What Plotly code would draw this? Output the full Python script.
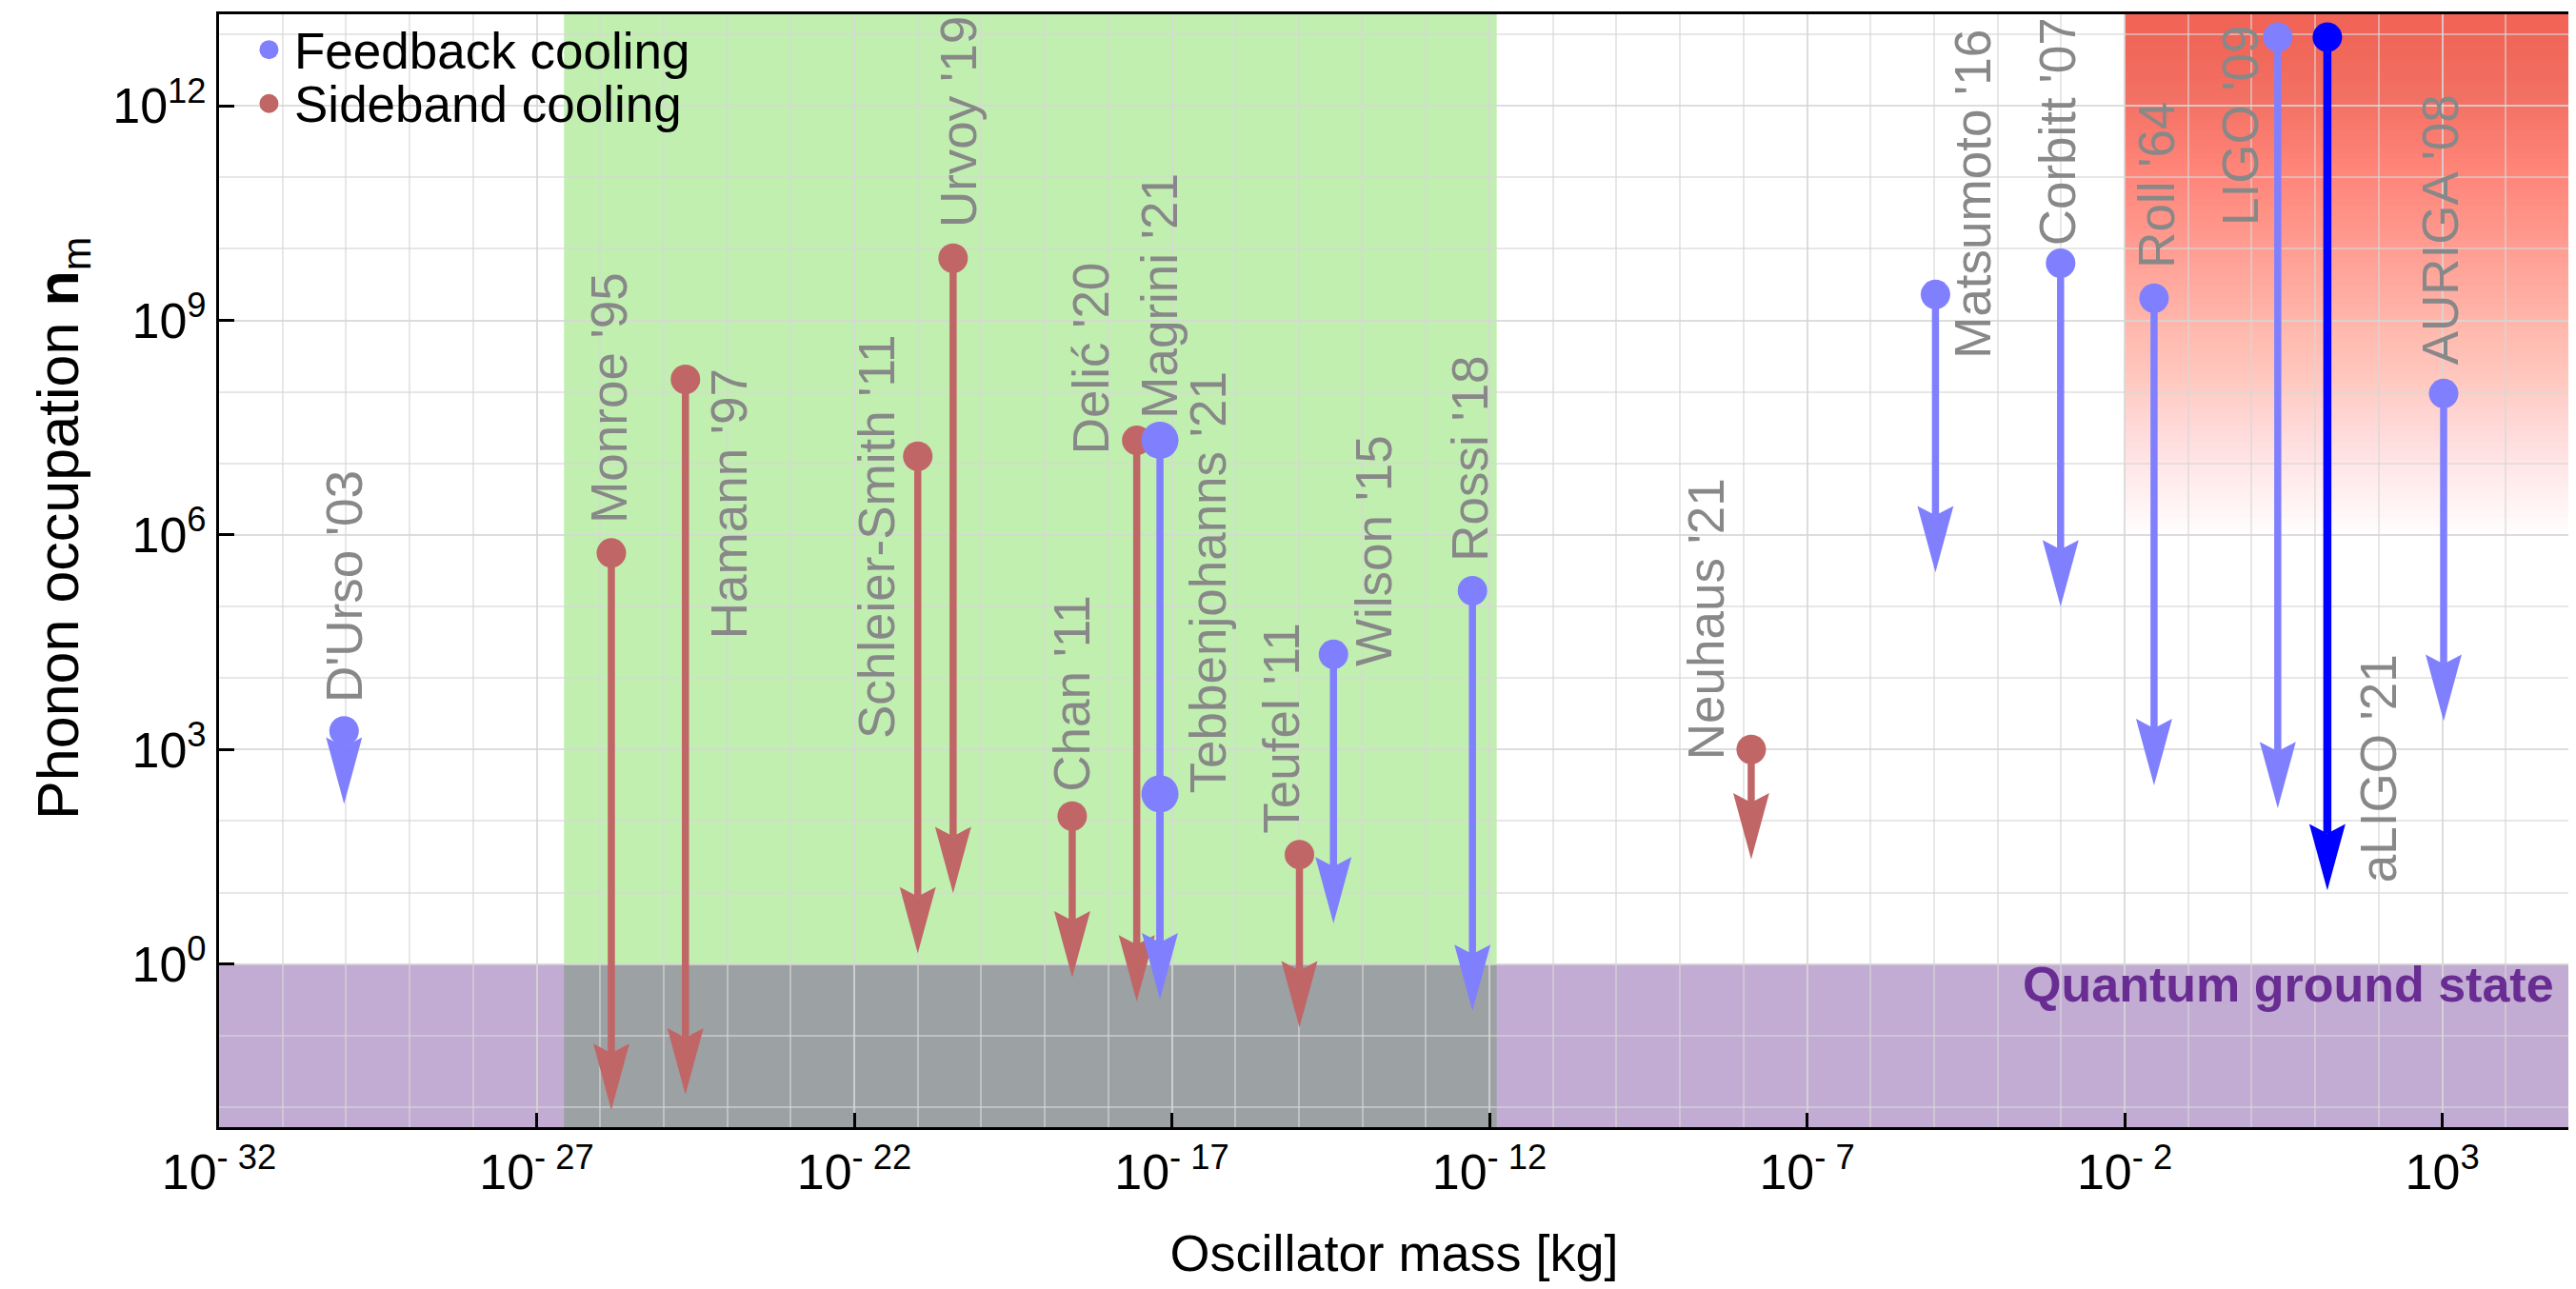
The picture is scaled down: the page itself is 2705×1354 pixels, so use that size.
import math
import plotly.graph_objects as go

# ---------------- data ----------------
names = ["D'Urso '03", "Monroe '95", "Hamann '97", "Schleier-Smith '11", "Urvoy '19",
         "Chan '11", "Delić '20", "Magrini '21", "Tebbenjohanns '21", "Teufel '11",
         "Wilson '15", "Rossi '18", "Neuhaus '21", "Matsumoto '16", "Corbitt '07",
         "Roll '64", "LIGO '09", "aLIGO '21", "AURIGA '08"]
method = ["feedback", "sideband", "sideband", "sideband", "sideband",
          "sideband", "sideband", "feedback", "feedback", "sideband",
          "feedback", "feedback", "sideband", "feedback", "feedback",
          "feedback", "feedback", "feedback", "feedback"]
mass_kg = [9.3e-31, 1.5e-26, 2.2e-25, 1.0e-21, 3.6e-21,
           2.7e-19, 2.8e-18, 6.5e-18, 6.5e-18, 1.02e-15,
           3.5e-15, 5.4e-13, 1.32e-8, 1.05e-5, 9.8e-4,
           2.9e-2, 2.57, 15.5, 1.05e3]
n_initial = [1.82e3, 5.6e5, 1.5e8, 1.26e7, 7.4e9,
             117, 2.1e7, 2.1e7, 240, 34,
             2.14e4, 1.66e5, 1.0e3, 2.3e9, 6.3e9,
             2.04e9, 9.1e12, 9.1e12, 9.5e7]
n_final = [174, 0.0091, 0.015, 1.41, 9.8,
           0.65, 0.30, 0.32, 0.32, 0.13,
           3.7, 0.22, 29, 3.0e5, 1.0e5,
           316, 151, 10.7, 2.5e3]

legend_labels = ["Feedback cooling", "Sideband cooling"]

x_tickvals = [1e-32, 1e-27, 1e-22, 1e-17, 1e-12, 1e-7, 1e-2, 1e3]
x_ticktext = ["10<sup>- 32</sup>", "10<sup>- 27</sup>", "10<sup>- 22</sup>", "10<sup>- 17</sup>",
              "10<sup>- 12</sup>", "10<sup>- 7</sup>", "10<sup>- 2</sup>", "10<sup>3</sup>"]
y_tickvals = [1e0, 1e3, 1e6, 1e9, 1e12]
y_ticktext = ["10<sup>0</sup>", "10<sup>3</sup>", "10<sup>6</sup>", "10<sup>9</sup>", "10<sup>12</sup>"]

# regions
levitated_mass = [2.7e-27, 1.3e-12]      # green band
ground_state_n = 1.0                      # quantum ground state limit
thermal_region = [1e-2, 1e6]              # red gradient: mass lower bound, n lower bound

# ---------------- layout / style ----------------
W, H = 2697, 1338          # page body has an 8px margin
ML, MR, MT, MB = 222, 4, 4, 162
XR = [-32, 5]
YR = [-2.28, 13.28]
pxx = (W - ML - MR) / (XR[1] - XR[0])
pxy = (H - MT - MB) / (YR[1] - YR[0])

FONT = "Liberation Sans, Arial, Helvetica, sans-serif"
C_FB = "#8080FF"
C_SB = "#C16666"
C_ALIGO = "#0000FF"
C_LABEL = "#888888"
HEAD_LEN, HEAD_HALF, NOTCH = 70, 19, 10
LINE_W = 7.5
DOT = 31
DOT_BIG = 39
big_dot = {"Magrini '21", "Tebbenjohanns '21"}

label_style = {
    "D'Urso '03": ("bottom", 0, 28, "start"),
    "Monroe '95": ("bottom", -2, 29, "start"),
    "Hamann '97": ("top", 46, 13, "start"),
    "Schleier-Smith '11": ("middle", -43, -85, "start"),
    "Urvoy '19": ("bottom", 5, 30, "start"),
    "Chan '11": ("bottom", 0, 24, "start"),
    "Delić '20": ("bottom", -48, -17, "start"),
    "Magrini '21": ("bottom", 0, 21, "start"),
    "Tebbenjohanns '21": ("bottom", 50, -2, "start"),
    "Teufel '11": ("bottom", -19, 20, "start"),
    "Wilson '15": ("bottom", 43, -15, "start"),
    "Rossi '18": ("bottom", -3, 29, "start"),
    "Neuhaus '21": ("bottom", -48, -13, "start"),
    "Matsumoto '16": ("bottom", 39, -69, "start"),
    "Corbitt '07": ("bottom", -3, 16, "start"),
    "Roll '64": ("bottom", 3, 30, "start"),
    "LIGO '09": ("top", -40, 14, "start"),
    "aLIGO '21": ("bottom", 53, 6, "end"),
    "AURIGA '08": ("bottom", -4, 28, "start"),
}


def color_of(i):
    if names[i] == "aLIGO '21":
        return C_ALIGO
    return C_FB if method[i] == "feedback" else C_SB


fig = go.Figure()

# ---------------- background regions ----------------
shapes = []
shapes.append(dict(type="rect", xref="x", yref="y", layer="below",
                   x0=levitated_mass[0], x1=levitated_mass[1], y0=ground_state_n, y1=10 ** YR[1],
                   fillcolor="rgb(192,239,176)", line=dict(width=0)))
shapes.append(dict(type="rect", xref="x", yref="y", layer="below",
                   x0=10 ** XR[0], x1=10 ** XR[1], y0=10 ** YR[0], y1=ground_state_n,
                   fillcolor="rgb(194,172,211)", line=dict(width=0)))
shapes.append(dict(type="rect", xref="x", yref="y", layer="below",
                   x0=levitated_mass[0], x1=levitated_mass[1], y0=10 ** YR[0], y1=ground_state_n,
                   fillcolor="rgb(156,161,163)", line=dict(width=0)))
# vertical red gradient (stacked translucent strips -> linear ramp)
N = 90
lo = math.log10(thermal_region[1])
for k in range(1, N + 1):
    yb = lo + (k - 1) / N * (YR[1] - lo)
    a = 1.0 / (N - k + 1)
    shapes.append(dict(type="rect", xref="x", yref="y", layer="below",
                       x0=thermal_region[0], x1=10 ** XR[1], y0=10 ** yb, y1=10 ** YR[1],
                       fillcolor=f"rgba(242,100,86,{a:.4f})", line=dict(width=0)))

# ---------------- arrows ----------------
order = [C_SB, C_FB, C_ALIGO]
groups = {c: [] for c in order}
for i in range(len(names)):
    groups[color_of(i)].append(i)

for col in order:
    idx = groups[col]
    lx, ly, hx, hy = [], [], [], []
    for i in idx:
        m = mass_kg[i]
        lm = math.log10(m)
        yt = math.log10(n_final[i])
        base = yt + HEAD_LEN / pxy
        notch = base - NOTCH / pxy
        wx = HEAD_HALF / pxx
        lx += [m, m, None]
        ly += [n_initial[i], 10 ** notch, None]
        hx += [10 ** (lm - wx), m, 10 ** (lm + wx), m, None]
        hy += [10 ** base, n_final[i], 10 ** base, 10 ** notch, None]
    fig.add_trace(go.Scatter(x=lx, y=ly, mode="lines", showlegend=False, hoverinfo="skip",
                             line=dict(color=col, width=LINE_W + (1 if col == C_ALIGO else 0))))
    fig.add_trace(go.Scatter(x=hx, y=hy, mode="lines", fill="toself", fillcolor=col,
                             line=dict(width=0, color=col), showlegend=False, hoverinfo="skip"))
    fig.add_trace(go.Scatter(x=[mass_kg[i] for i in idx], y=[n_initial[i] for i in idx],
                             mode="markers", showlegend=False,
                             text=[names[i] for i in idx],
                             marker=dict(color=col, opacity=1,
                                         size=[DOT_BIG if names[i] in big_dot else DOT for i in idx],
                                         line=dict(width=0))))

# ---------------- labels ----------------
annotations = []
for i, nm in enumerate(names):
    ya, dx, dy, where = label_style[nm]
    yv = n_initial[i] if where == "start" else n_final[i]
    annotations.append(dict(x=math.log10(mass_kg[i]), y=math.log10(yv), xref="x", yref="y",
                            text=nm, showarrow=False, textangle=-90,
                            xanchor="center", yanchor=ya, xshift=dx, yshift=dy,
                            font=dict(family=FONT, size=53, color=C_LABEL)))
annotations.append(dict(x=1, xref="paper", y=math.log10(ground_state_n), yref="y",
                        text="<b>Quantum ground state</b>", showarrow=False,
                        xanchor="right", yanchor="middle", xshift=-14, yshift=-21,
                        font=dict(family=FONT, size=52, color="rgb(104,44,146)")))
# y-axis title
annotations.append(dict(x=0, xref="paper", y=0.2747, yref="paper",
                        text="Phonon occupation <b>n</b><sub>m</sub>", showarrow=False,
                        textangle=-90, xanchor="center", yanchor="bottom", xshift=-164,
                        font=dict(family=FONT, size=61, color="black")))

# legend (drawn in the top-left corner of the plot area)
leg_colors = [C_FB, C_SB]
leg_y = [0.9682, 0.9198]
for lab, col, yy in zip(legend_labels, leg_colors, leg_y):
    shapes.append(dict(type="circle", xref="paper", yref="paper", layer="above",
                       xsizemode="pixel", ysizemode="pixel", xanchor=0.02125, yanchor=yy,
                       x0=-10, x1=10, y0=-10, y1=10, fillcolor=col, line=dict(width=0)))
    annotations.append(dict(x=0.0312, xref="paper", y=yy, yref="paper", text=lab,
                            showarrow=False, xanchor="left", yanchor="middle", yshift=-1,
                            font=dict(family=FONT, size=53, color="black")))

grid_c = "rgba(215,215,215,0.6)"
fig.update_layout(
    width=W, height=H,
    margin=dict(l=ML, r=MR, t=MT, b=MB),
    paper_bgcolor="white", plot_bgcolor="white",
    font=dict(family=FONT, size=52, color="black"),
    shapes=shapes, annotations=annotations,
    showlegend=False,
    hovermode=False,
)
fig.update_xaxes(type="log", range=XR, tickmode="array", tickvals=x_tickvals, ticktext=x_ticktext,
                 ticks="inside", ticklen=15, tickwidth=2.5, tickcolor="black",
                 showline=True, linecolor="black", linewidth=3, mirror=True,
                 showgrid=True, gridcolor=grid_c, gridwidth=1.5,
                 minor=dict(tickmode="array", tickvals=[10.0 ** k for k in range(-32, 6)],
                            showgrid=True, gridcolor=grid_c, gridwidth=1.5, ticks=""),
                 tickfont=dict(family=FONT, size=52, color="black"),
                 title=dict(text="Oscillator mass [kg]", font=dict(family=FONT, size=54, color="black"),
                            standoff=40),
                 zeroline=False)
fig.update_yaxes(type="log", range=YR, tickmode="array", tickvals=y_tickvals, ticktext=y_ticktext,
                 ticks="inside", ticklen=16, tickwidth=2.5, tickcolor="black",
                 showline=True, linecolor="black", linewidth=3, mirror=True,
                 showgrid=True, gridcolor=grid_c, gridwidth=1.5,
                 minor=dict(tickmode="array", tickvals=[10.0 ** k for k in range(-2, 14)],
                            showgrid=True, gridcolor=grid_c, gridwidth=1.5, ticks=""),
                 tickfont=dict(family=FONT, size=52, color="black"),
                 zeroline=False)

fig.write_html("out.html")
